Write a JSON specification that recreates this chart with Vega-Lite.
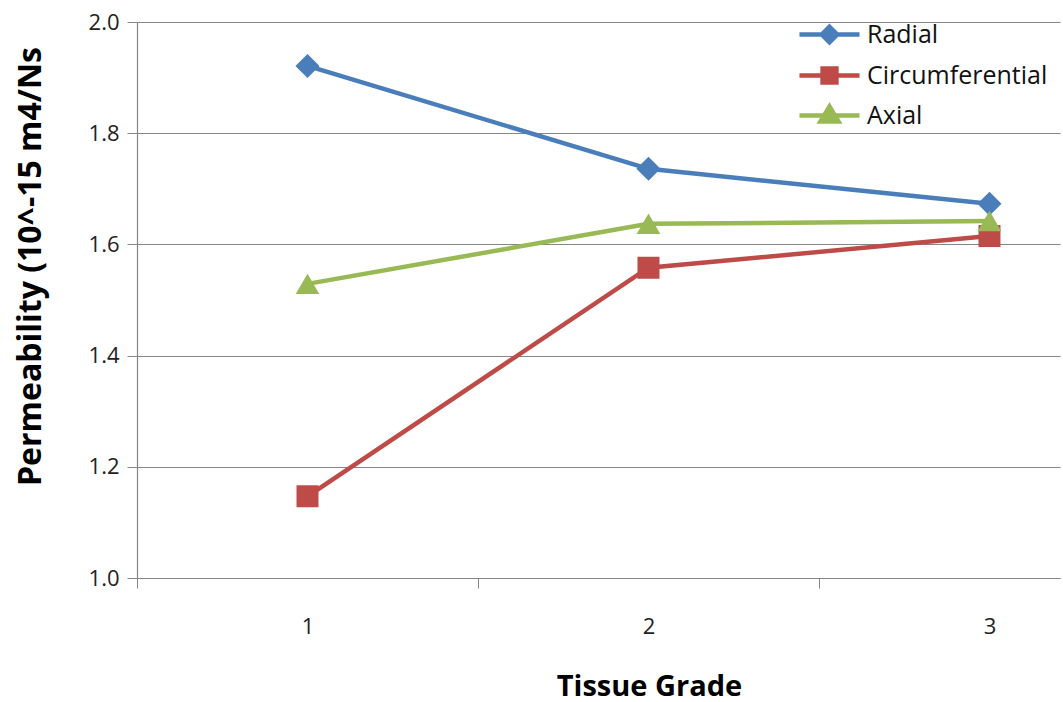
{
  "$schema": "https://vega.github.io/schema/vega-lite/v6.json",
  "autosize": "none",
  "width": 923,
  "height": 556,
  "padding": {"left": 137, "top": 22, "right": 3, "bottom": 124},
  "background": "white",
  "config": {
    "view": {"stroke": null},
    "font": "Open Sans",
    "axis": {"labelFont": "Open Sans", "titleFont": "Open Sans", "labelColor": "#222222", "titleColor": "#000000"}
  },
  "data": {
    "values": [
      {"grade": 1, "series": "Radial", "value": 1.921},
      {"grade": 2, "series": "Radial", "value": 1.736},
      {"grade": 3, "series": "Radial", "value": 1.673},
      {"grade": 1, "series": "Circumferential", "value": 1.147},
      {"grade": 2, "series": "Circumferential", "value": 1.558},
      {"grade": 3, "series": "Circumferential", "value": 1.615},
      {"grade": 1, "series": "Axial", "value": 1.529},
      {"grade": 2, "series": "Axial", "value": 1.637},
      {"grade": 3, "series": "Axial", "value": 1.642}
    ]
  },
  "encoding": {
    "x": {
      "field": "grade",
      "type": "quantitative",
      "scale": {"domain": [0.5, 3.2068], "nice": false, "zero": false},
      "axis": {
        "title": "Tissue Grade",
        "values": [0.5, 1, 1.5, 2, 2.5, 3],
        "labelExpr": "datum.value % 1 == 0 ? format(datum.value, 'd') : ''",
        "grid": false,
        "tickSize": 10,
        "tickColor": "#868686",
        "tickOpacity": {"condition": {"test": "datum.value % 1 != 0", "value": 1}, "value": 0},
        "domainColor": "#868686",
        "domainWidth": 1.2,
        "labelFontSize": 22,
        "labelPadding": 28,
        "titleFontSize": 29,
        "titleFontWeight": "bold",
        "titleX": 512,
        "titleY": 117,
        "titleBaseline": "alphabetic",
        "titleAlign": "center"
      }
    },
    "y": {
      "field": "value",
      "type": "quantitative",
      "scale": {"domain": [1, 2], "nice": false, "zero": false},
      "axis": {
        "title": "Permeability (10^-15 m4/Ns",
        "values": [1, 1.2, 1.4, 1.6, 1.8, 2],
        "format": ".1f",
        "grid": true,
        "gridColor": "#868686",
        "gridWidth": 1.2,
        "tickSize": 10,
        "tickColor": "#868686",
        "domainColor": "#868686",
        "domainWidth": 1.2,
        "labelFontSize": 22,
        "labelPadding": 8,
        "titleFontSize": 32,
        "titleFontWeight": "bold",
        "titleX": -107,
        "titleY": 244,
        "titleBaseline": "middle",
        "titleAlign": "center",
        "titleAngle": 270
      }
    },
    "color": {
      "field": "series",
      "type": "nominal",
      "scale": {"domain": ["Radial", "Circumferential", "Axial"], "range": ["#4A7EBB", "#BE4B48", "#98B954"]},
      "legend": {
        "title": null,
        "orient": "none",
        "legendX": 669,
        "legendY": -11,
        "labelFontSize": 25,
        "labelFont": "Open Sans",
        "labelColor": "#111111",
        "labelLimit": 400,
        "symbolSize": 1764,
        "labelOffset": 14,
        "rowPadding": 0,
        "encode": {
          "symbols": {
            "update": {
              "shape": {"signal": "datum.value === 'Radial' ? 'M-1.43,0L1.43,0M0,-0.37L0.37,0L0,0.37L-0.37,0Z' : datum.value === 'Circumferential' ? 'M-1.43,0L1.43,0M-0.33,-0.33L0.33,-0.33L0.33,0.33L-0.33,0.33Z' : 'M-1.43,0L1.43,0M0,-0.43L0.43,0.29L-0.43,0.29Z'"},
              "size": {"value": 1764},
              "fill": {"signal": "scale('color', datum.value)"},
              "stroke": {"signal": "scale('color', datum.value)"},
              "strokeWidth": {"value": 4.5},
              "opacity": {"value": 1},
              "fillOpacity": {"value": 1},
              "strokeOpacity": {"value": 1}
            }
          }
        }
      }
    }
  },
  "layer": [
    {
      "mark": {"type": "line", "strokeWidth": 4.5, "clip": true}
    },
    {
      "transform": [{"filter": "datum.series === 'Radial'"}],
      "mark": {"type": "point", "filled": true, "opacity": 1, "shape": "diamond", "size": 580, "clip": true}
    },
    {
      "transform": [{"filter": "datum.series === 'Circumferential'"}],
      "mark": {"type": "point", "filled": true, "opacity": 1, "shape": "square", "size": 484, "clip": true}
    },
    {
      "transform": [{"filter": "datum.series === 'Axial'"}],
      "mark": {"type": "point", "filled": true, "opacity": 1, "shape": "triangle-up", "size": 560, "clip": true}
    }
  ]
}
